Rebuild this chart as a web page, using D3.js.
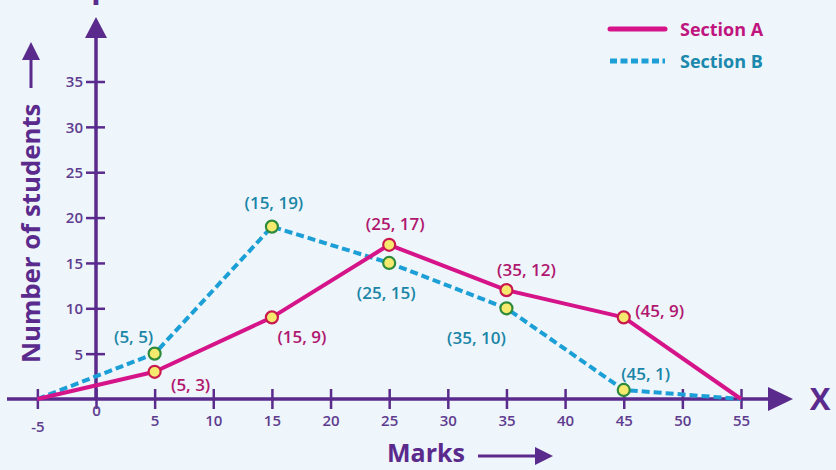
<!DOCTYPE html>
<html>
<head>
<meta charset="utf-8">
<script src="https://cdn.jsdelivr.net/npm/d3@7"></script>
<style>
  html, body { margin: 0; padding: 0; background: #eef5fb; }
  svg { display: block; font-family: "Open Sans", "DejaVu Sans", sans-serif; }
</style>
</head>
<body>
<svg id="chart" width="836" height="470"></svg>
<script>
// ---- data ----
const marks = [-5, 5, 15, 25, 35, 45, 55];
const sectionA = [0, 3, 9, 17, 12, 9, 0];
const sectionB = [0, 5, 19, 15, 10, 1, 0];
const labelledIdx = [1, 2, 3, 4, 5];          // points that carry a marker & label
const xTickValues = [-5, 0, 5, 10, 15, 20, 25, 30, 35, 40, 45, 50, 55];
const yTickValues = [5, 10, 15, 20, 25, 30, 35];
const seriesNames = ["Section A", "Section B"];

// ---- styling / layout ----
const W = 836, H = 470;
const axisColor = "#5a2a8c";
const tickColor = "#5e3d8f";
const colA = "#d6148a", colB = "#1c9fd6";
const labA = "#b0176f", labB = "#1a85a6";

// label offsets (dx, dy) relative to point, per series
const offA = {1: [36, 13], 2: [30, 20], 3: [6, -21], 4: [20, -20], 5: [36, -6]};
const offB = {1: [-21, -17], 2: [2, -24], 3: [-3, 30], 4: [-30, 30], 5: [22, -16]};

const svg = d3.select("#chart");
svg.append("rect").attr("width", W).attr("height", H).attr("fill", "#eef5fb");

const x = d3.scaleLinear().domain([0, 55]).range([96, 741]);
const y = d3.scaleLinear().domain([0, 35]).range([399, 81.5]);

// ---- x axis ----
svg.append("line").attr("x1", 7).attr("x2", 772).attr("y1", y(0)).attr("y2", y(0))
  .attr("stroke", axisColor).attr("stroke-width", 3.5);
svg.append("path").attr("d", `M768,${y(0)-12} L793,${y(0)} L768,${y(0)+12} Z`).attr("fill", axisColor);

const xAxis = d3.axisBottom(x).tickValues(xTickValues).tickSize(10).tickFormat(d => String(d));
const gx = svg.append("g").attr("transform", `translate(0,${y(0)})`).call(xAxis);
gx.select(".domain").remove();
gx.selectAll(".tick line").attr("y1", -10).attr("y2", 10).attr("stroke", axisColor).attr("stroke-width", 2.5);
gx.selectAll(".tick text")
  .attr("y", d => d === 0 ? 17 : (d === -5 ? 33 : 27))
  .attr("dy", 0)
  .attr("fill", tickColor).attr("font-size", 15).attr("font-weight", 600)
  .attr("font-family", "'Open Sans', sans-serif");

// ---- y axis ----
svg.append("line").attr("x1", x(0)).attr("x2", x(0)).attr("y1", y(0)).attr("y2", 34)
  .attr("stroke", axisColor).attr("stroke-width", 3.5);
svg.append("path").attr("d", `M${x(0)-11},38 L${x(0)},17 L${x(0)+11},38 Z`).attr("fill", axisColor);

const yAxis = d3.axisLeft(y).tickValues(yTickValues).tickSize(10);
const gy = svg.append("g").attr("transform", `translate(${x(0)},0)`).call(yAxis);
gy.select(".domain").remove();
gy.selectAll(".tick line").attr("x1", -10).attr("x2", 9).attr("stroke", axisColor).attr("stroke-width", 2.5);
gy.selectAll(".tick text").attr("x", -13).attr("dy", "0.36em")
  .attr("fill", tickColor).attr("font-size", 15).attr("font-weight", 600)
  .attr("font-family", "'Open Sans', sans-serif");

// axis letters
svg.append("text").attr("x", 820).attr("y", y(0) + 11).attr("text-anchor", "middle")
  .attr("fill", axisColor).attr("font-size", 31).attr("font-weight", 700).text("X");
svg.append("text").attr("x", x(0)).attr("y", 5).attr("text-anchor", "middle")
  .attr("fill", axisColor).attr("font-size", 31).attr("font-weight", 700).text("Y");

// axis titles
svg.append("text").attr("transform", "translate(40,363) rotate(-90)")
  .attr("fill", axisColor).attr("font-size", 25.8).attr("font-weight", 700)
  .text("Number of students");
svg.append("line").attr("x1", 31).attr("x2", 31).attr("y1", 88).attr("y2", 56)
  .attr("stroke", axisColor).attr("stroke-width", 3);
svg.append("path").attr("d", "M22,60 L31,42 L40,60 Z").attr("fill", axisColor);

svg.append("text").attr("x", 387).attr("y", 462)
  .attr("fill", axisColor).attr("font-size", 25).attr("font-weight", 700).text("Marks");
svg.append("line").attr("x1", 478).attr("x2", 538).attr("y1", 456).attr("y2", 456)
  .attr("stroke", axisColor).attr("stroke-width", 3);
svg.append("path").attr("d", "M535,447 L553,456 L535,465 Z").attr("fill", axisColor);

// ---- lines ----
const line = d3.line().x((d, i) => x(marks[i])).y(d => y(d));
svg.append("path").datum(sectionB).attr("d", line).attr("fill", "none")
  .attr("stroke", colB).attr("stroke-width", 4).attr("stroke-dasharray", "8,4");
svg.append("path").datum(sectionA).attr("d", line).attr("fill", "none")
  .attr("stroke", colA).attr("stroke-width", 4).attr("stroke-linejoin", "round");

// ---- markers ----
function markers(vals, stroke) {
  svg.append("g").selectAll("circle").data(labelledIdx).join("circle")
    .attr("cx", i => x(marks[i])).attr("cy", i => y(vals[i])).attr("r", 6)
    .attr("fill", "#f6ea6e").attr("stroke", stroke).attr("stroke-width", 2.2);
}
markers(sectionB, "#2e8a3c");
markers(sectionA, "#c81a4e");

// ---- labels ----
function labels(vals, off, color) {
  svg.append("g").selectAll("text").data(labelledIdx).join("text")
    .attr("x", i => x(marks[i]) + off[i][0]).attr("y", i => y(vals[i]) + off[i][1])
    .attr("text-anchor", "middle").attr("dy", "0.35em")
    .attr("fill", color).attr("font-size", 17).attr("font-weight", 600)
    .text(i => `(${marks[i]}, ${vals[i]})`);
}
labels(sectionA, offA, labA);
labels(sectionB, offB, labB);

// ---- legend ----
svg.append("line").attr("x1", 610).attr("x2", 665).attr("y1", 29).attr("y2", 29)
  .attr("stroke", colA).attr("stroke-width", 5).attr("stroke-linecap", "round");
svg.append("line").attr("x1", 610).attr("x2", 665).attr("y1", 61).attr("y2", 61)
  .attr("stroke", colB).attr("stroke-width", 5).attr("stroke-dasharray", "7,3.5");
svg.append("text").attr("x", 680).attr("y", 36).attr("fill", "#c0157f")
  .attr("font-size", 18).attr("font-weight", 700).text(seriesNames[0]);
svg.append("text").attr("x", 680).attr("y", 68).attr("fill", "#1b88ad")
  .attr("font-size", 18).attr("font-weight", 700).text(seriesNames[1]);
</script>
</body>
</html>
